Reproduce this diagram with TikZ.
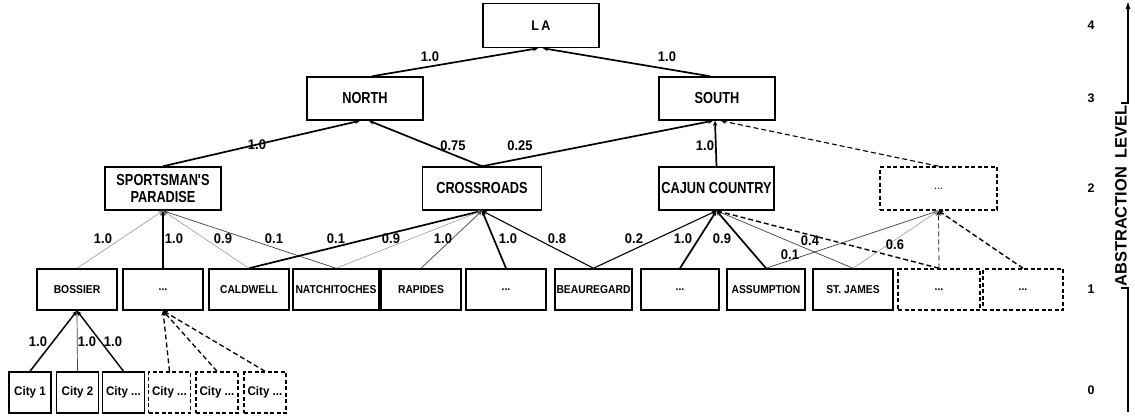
\documentclass[tikz,border=0pt]{standalone}
\usepackage{fontspec}
\setmainfont{Liberation Sans}
\newfontfamily\condA[FakeStretch=0.80]{Liberation Sans}
\newfontfamily\condB[FakeStretch=0.90]{Liberation Sans}
\newfontfamily\condC[FakeStretch=0.93]{Liberation Sans}
\usetikzlibrary{arrows.meta}
\tikzset{
  box/.style={draw, line width=1.5bp, inner sep=1bp, align=center},
  lvA/.style={box, minimum width=116bp, minimum height=43bp, font=\condA\bfseries\fontsize{16}{17.5}\selectfont},
  lvLA/.style={box, minimum width=116bp, minimum height=44bp, font=\condB\bfseries\fontsize{14}{15}\selectfont},
  lvB/.style={box, minimum width=80bp, minimum height=41bp, font=\condB\bfseries\fontsize{11.5}{13}\selectfont},
  lvC/.style={box, minimum width=42bp, minimum height=41bp, font=\condC\bfseries\fontsize{12.5}{14}\selectfont},
  dbox/.style={dash pattern=on 4bp off 2.5bp},
  lbl/.style={inner sep=0bp, font=\condC\bfseries\fontsize{14}{15}\selectfont},
  num/.style={inner sep=0bp, font=\bfseries\fontsize{12.5}{14}\selectfont},
  tip/.style={-{Stealth[length=5bp,width=4.5bp]}},
  wA/.style={tip, line width=1.7bp},
  wB/.style={tip, line width=1.1bp},
  wC/.style={tip, line width=0.7bp, black!75},
  wD/.style={tip, line width=0.5bp, black!45},
  dsh/.style={dash pattern=on 5bp off 3bp},
  axis/.style={line width=1.3bp}
}
\begin{document}
\begin{tikzpicture}[x=1bp,y=-1bp]
\useasboundingbox (0,0) rectangle (1135,416);
% level 4
\node[lvLA] (la) at (541,25.5) {L\,A};
% level 3
\node[lvA] (north) at (365,98.5) {NORTH};
\node[lvA] (south) at (717,98.5) {SOUTH};
% level 2
\node[lvA] (sp) at (163,188.5) {SPORTSMAN'S\\PARADISE};
\node[lvA, minimum width=119bp] (cr) at (482,188.5) {CROSSROADS};
\node[lvA, minimum width=115bp] (cc) at (716.5,188.5) {CAJUN COUNTRY};
\node[lvA, dbox, minimum width=117bp, font=\condB\fontsize{11.5}{13}\selectfont] (dd) at (938.5,188.5) {...};
% level 1
\node[lvB] (bos) at (77,289.5) {BOSSIER};
\node[lvB] (da) at (163,289.5) {...};
\node[lvB] (cal) at (249,289.5) {CALDWELL};
\node[lvB, minimum width=86bp] (nat) at (336,289.5) {NATCHITOCHES};
\node[lvB] (rap) at (421,289.5) {RAPIDES};
\node[lvB] (db) at (506,289.5) {...};
\node[lvB, minimum width=77bp] (bea) at (593.5,289.5) {BEAUREGARD};
\node[lvB, minimum width=78bp] (dc) at (680,289.5) {...};
\node[lvB, minimum width=78bp] (asu) at (766,289.5) {ASSUMPTION};
\node[lvB] (stj) at (853,289.5) {ST. JAMES};
\node[lvB, dbox, minimum width=82bp] (de) at (939,289.5) {...};
\node[lvB, dbox] (df) at (1023,289.5) {...};
% level 0
\node[lvC] (c1) at (30,392.5) {City 1};
\node[lvC] (c2) at (77.5,392.5) {City 2};
\node[lvC] (c3) at (123.5,392.5) {City ...};
\node[lvC, dbox] (c4) at (169.5,392.5) {City ...};
\node[lvC, dbox] (c5) at (217,392.5) {City ...};
\node[lvC, dbox] (c6) at (265,392.5) {City ...};

% edges level 3 -> 4
\draw[wA] ([xshift=7bp]north.north) -- ([xshift=-3bp]la.south);
\draw[wA] ([xshift=-7bp]south.north) -- ([xshift=2bp]la.south);
% level 2 -> 3
\draw[wA] (sp.north) -- ([xshift=-5bp]north.south);
\draw[wA] (cr.north) -- ([xshift=4bp]north.south);
\draw[wA] (cr.north) -- ([xshift=-4bp]south.south);
\draw[wA] (cc.north) -- ([xshift=-2bp]south.south);
\draw[wB, dsh] (dd.north) -- ([xshift=4bp]south.south);
% level 1 -> 2
\draw[wD] (bos.north) -- (sp.south);
\draw[wB] (da.north) -- (sp.south);
\draw[wD] (cal.north) -- (sp.south);
\draw[wC] (nat.north) -- (sp.south);
\draw[wA] (cal.north) -- (cr.south);
\draw[wD] (nat.north) -- (cr.south);
\draw[wC] (rap.north) -- (cr.south);
\draw[wA] (db.north) -- (cr.south);
\draw[wB] (bea.north) -- (cr.south);
\draw[wB] (bea.north) -- (cc.south);
\draw[wA] (dc.north) -- (cc.south);
\draw[wA] (asu.north) -- (cc.south);
\draw[wC] (stj.north) -- (cc.south);
\draw[wB, dsh, line width=1.4bp] (de.north) -- (cc.south);
\draw[wC] (asu.north) -- (dd.south);
\draw[wD] (stj.north) -- (dd.south);
\draw[wC, black, dsh] (de.north) -- (dd.south);
\draw[wB, dsh, line width=1.4bp] (df.north) -- (dd.south);
% level 0 -> 1
\draw[tip, line width=1.5bp] (c1.north) -- (bos.south);
\draw[wC] (c2.north) -- (bos.south);
\draw[tip, line width=1.4bp] (c3.north) -- (bos.south);
\draw[tip, line width=1.3bp, dsh] (c4.north) -- (da.south);
\draw[tip, line width=1.3bp, dsh] (c5.north) -- (da.south);
\draw[tip, line width=1.3bp, dsh] (c6.north) -- (da.south);

% labels
\node[lbl] (t1) at (430,57) {1.0};
\node[lbl] (t2) at (667,57) {1.0};
\node[lbl] (t3) at (257,145) {1.0};
\node[lbl] (t4) at (453,146) {0.75};
\node[lbl] (t5) at (520,146) {0.25};
\node[lbl] (t6) at (705,146) {1.0};
\node[lbl] (u1) at (103,239) {1.0};
\node[lbl] (u2) at (174,239) {1.0};
\node[lbl] (u3) at (223,239) {0.9};
\node[lbl] (u4) at (274,239) {0.1};
\node[lbl] (u5) at (336,239) {0.1};
\node[lbl] (u6) at (391,239) {0.9};
\node[lbl] (u7) at (443,239) {1.0};
\node[lbl] (u8) at (508,239) {1.0};
\node[lbl] (u9) at (557,239) {0.8};
\node[lbl] (u10) at (634,239) {0.2};
\node[lbl] (u11) at (683,239) {1.0};
\node[lbl] (u12) at (722,239) {0.9};
\node[lbl] (u13) at (810,241) {0.4};
\node[lbl] (u14) at (790,255) {0.1};
\node[lbl] (u15) at (895,245) {0.6};
\node[lbl] (v1) at (38,342) {1.0};
\node[lbl] (v2) at (87,342) {1.0};
\node[lbl] (v3) at (113,342) {1.0};

% abstraction axis
\node[num] (n4) at (1091,25.5) {4};
\node[num] (n3) at (1091,98.5) {3};
\node[num] (n2) at (1091,188.5) {2};
\node[num] (n1) at (1091,289.5) {1};
\node[num] (n0) at (1091,390) {0};
\node[rotate=90, inner sep=0bp, font=\bfseries\fontsize{16.5}{18}\selectfont] (ax) at (1121,196) {ABSTRACTION\hspace{4bp} LEVEL};
\coordinate (axb) at (1128,412);
\coordinate (axm1) at (1128,288);
\coordinate (axk1) at (1121,288);
\coordinate (axm2) at (1128,103);
\coordinate (axk2) at (1121,103);
\coordinate (axt) at (1128,1);
\draw[axis] (axb) -- (axm1) -- (axk1);
\draw[axis, -{Latex[length=8bp,width=5bp]}] (axk2) -- (axm2) -- (axt);
\end{tikzpicture}
\end{document}
